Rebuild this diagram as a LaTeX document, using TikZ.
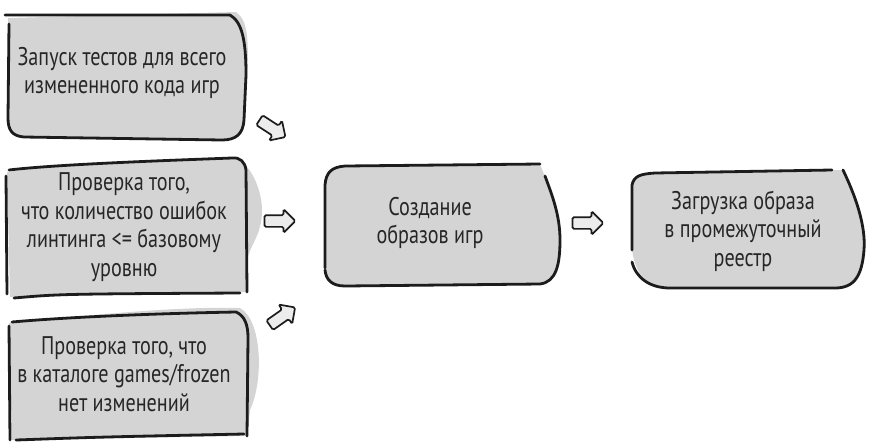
\documentclass[tikz,border=0pt]{standalone}
\usepackage{fontspec}
\setmainfont{PT Sans}[FakeStretch=0.79]
\usetikzlibrary{shapes.arrows,positioning}
\definecolor{ink}{RGB}{28,28,28}
\definecolor{txt}{RGB}{38,38,38}
\definecolor{boxfill}{RGB}{212,212,212}
\definecolor{arrowfill}{RGB}{236,236,236}

\begin{document}
\begin{tikzpicture}[x=1pt,y=-1pt,
    sketch/.style={draw=ink,%
      line width=2.8pt,%
      line cap=round,%
      line join=round},
    label/.style={text=txt,%
      align=center,%
      inner sep=0,%
      font=\fontsize{25.5}{28.5}\selectfont},
    fatarrow/.style={single arrow,%
      draw=ink, fill=arrowfill,%
      line width=1.7pt,%
      rounded corners=1.5pt,%
      inner sep=5pt,%
      minimum height=31pt,%
      single arrow head extend=6pt}
    ]
    \useasboundingbox (0,0) rectangle (869,445);

    % gray fills
    \fill[boxfill] (8,18) -- (236,12) .. controls (248,20) and (249,40) .. (247,80) -- (244,125) .. controls (243,137) and (235,140) .. (222,140) -- (22,137) .. controls (10,136) and (8,128) .. (8,118) -- cycle;
    \fill[boxfill] (7,172) .. controls (60,164) and (180,160) .. (232,158) .. controls (250,160) and (262,190) .. (262,210) .. controls (262,235) and (250,245) .. (247,260) -- (247,292) -- (10,297) -- cycle;
    \fill[boxfill] (9,323) .. controls (80,316) and (180,306) .. (240,308) .. controls (262,320) and (264,380) .. (250,410) -- (247,436) -- (12,440) -- cycle;
    \fill[boxfill] (325,268) -- (325,185) .. controls (326,172) and (332,167) .. (345,166) -- (540,164) .. controls (552,195) and (560,215) .. (560,240) .. controls (560,265) and (556,282) .. (540,284) -- (345,286) .. controls (332,286) and (326,280) .. cycle;
    \fill[boxfill] (632,250) -- (632,185) .. controls (634,176) and (640,174) .. (655,173) -- (843,170) .. controls (855,195) and (866,225) .. (864,250) .. controls (862,275) and (855,288) .. (835,288) -- (670,288) .. controls (650,288) and (636,278) .. cycle;

    % hand-drawn outlines
    \draw[sketch] (9,24) -- (8,118) .. controls (8,130) and (12,136) .. (24,137) -- (222,140) .. controls (236,140) and (243,134) .. (244,120) -- (246,75) .. controls (246,40) and (242,22) .. (230,15) -- (5,15);
    \draw[sketch] (6,176) -- (7,294);
    \draw[sketch] (9,170) .. controls (60,164) and (180,160) .. (232,158) .. controls (240,157) and (245,162) .. (246,170) -- (247,292);
    \draw[sketch] (14,298) .. controls (60,294) .. (240,293);
    \draw[sketch] (9,326) -- (10,440);
    \draw[sketch] (12,322) .. controls (80,316) and (180,313) .. (236,312) .. controls (245,316) and (248,325) .. (248,338) -- (247,436);
    \draw[sketch] (16,440) .. controls (100,437) .. (244,434);
    \draw[sketch] (325,268) -- (325,185) .. controls (326,172) and (332,167) .. (345,166) -- (540,164);
    \draw[sketch] (545,176) .. controls (552,195) and (560,215) .. (560,240) .. controls (560,265) and (556,282) .. (540,284) -- (345,286) .. controls (332,286) and (326,280) .. (325,270);
    \draw[sketch] (632,250) -- (632,185) .. controls (634,176) and (640,174) .. (655,173) -- (832,170);
    \draw[sketch] (843,170) .. controls (855,195) and (866,225) .. (864,250) .. controls (862,275) and (855,288) .. (835,288) -- (670,288) .. controls (650,288) and (636,278) .. (632,262);

    % step texts
    \node[label] (tests) at (122,73) {Запуск тестов для всего\\измененного кода игр};
    \node[label] (lint) at (124,227) {Проверка того,\\что количество ошибок\\линтинга <= базовому\\уровню};
    \node[label] (frozen) at (124,374) {Проверка того, что\\в каталоге games/frozen\\нет изменений};
    \node[label] (build) at (430,223) {Создание\\образов игр};
    \node[label] (push) at (743,231) {Загрузка образа\\в промежуточный\\реестр};

    % block arrows
    \node[fatarrow, rotate=-33] (a1) at (270,127) {};
    \node[fatarrow] (a2) at (277,221) {};
    \node[fatarrow, rotate=35] (a3) at (280,318) {};
    \node[fatarrow] (a4) at (585,223) {};
  \end{tikzpicture}
\end{document}
